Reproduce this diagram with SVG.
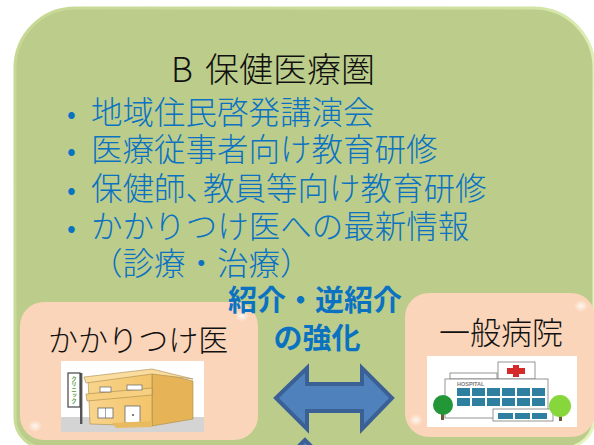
<svg xmlns="http://www.w3.org/2000/svg" width="594" height="445" viewBox="0 0 594 445">
  <defs>
    <style>
      .jp { font-family: "Noto Sans CJK JP", "Noto Sans", sans-serif; }
      .title { font-size: 34px; font-weight: 300; fill: #111111; }
      .item { font-size: 31.5px; font-weight: 300; fill: #0b72c2; }
      .dot { font-size: 26px; font-weight: 400; fill: #0b72c2; }
      .link { font-size: 29px; font-weight: bold; fill: #0b72c2; }
      .name { font-size: 30px; font-weight: 300; fill: #111111; }
      .card { fill: #fad5b9; }
      .arrow { fill: #4f81bd; stroke: #3b6096; stroke-width: 4; stroke-linejoin: miter; }
      .line { stroke: #7a7a7a; stroke-width: 0.8; }
    </style>
    <linearGradient id="rim" x1="0" y1="0" x2="1" y2="0.3">
      <stop offset="0" stop-color="#c6d894"/>
      <stop offset="0.8" stop-color="#cfe2a2"/>
      <stop offset="1" stop-color="#e4f2bd"/>
    </linearGradient>
    <radialGradient id="glow">
      <stop offset="0" stop-color="#ffffff" stop-opacity="0.8"/>
      <stop offset="1" stop-color="#ffffff" stop-opacity="0"/>
    </radialGradient>
    <linearGradient id="wallFront" x1="0" y1="0" x2="1" y2="0">
      <stop offset="0" stop-color="#f8d48c"/>
      <stop offset="1" stop-color="#f3c46a"/>
    </linearGradient>
  </defs>

  <rect width="594" height="445" fill="#ffffff"/>

  <!-- medical region B -->
  <g id="region-b">
    <path d="M75,8 H534 A60,60 0 0 1 594,68 V418 A30,30 0 0 1 564,448 H45 A30,30 0 0 1 15,418 V68 A60,60 0 0 1 75,8 Z"
          fill="#bccd8b" stroke="url(#rim)" stroke-width="3"/>
    <text class="jp title" x="171" y="82">B<tspan x="205">保健医療圏</tspan></text>
    <text class="jp item" y="124"><tspan class="dot" x="67" dy="-1">•</tspan><tspan x="91" dy="1">地域住民啓発講演会</tspan></text>
    <text class="jp item" y="161"><tspan class="dot" x="67" dy="-1">•</tspan><tspan x="91" dy="1">医療従事者向け教育研修</tspan></text>
    <text class="jp item" y="200"><tspan class="dot" x="67" dy="-1">•</tspan><tspan x="91" dy="1">保健師、</tspan><tspan x="203">教員等向け教育研修</tspan></text>
    <text class="jp item" y="238"><tspan class="dot" x="67" dy="-1">•</tspan><tspan x="91" dy="1">かかりつけ医への最新情報</tspan></text>
    <text class="jp item" x="91" y="275">（診療・治療）</text>
  </g>

  <!-- family doctor -->
  <g id="node-clinic">
    <rect class="card" x="20" y="302" width="238" height="138" rx="24"/>
    <ellipse cx="242" cy="316" rx="7" ry="6" fill="url(#glow)"/>
    <ellipse cx="35" cy="426" rx="7" ry="6" fill="url(#glow)"/>
    <text class="jp name" x="48" y="351">かかりつけ医</text>
    <!-- clinic building -->
    <rect x="61" y="361" width="143" height="71" fill="#ffffff"/>
    <rect x="61" y="417" width="143" height="15" fill="#d4d4d4"/>
    <polygon points="152,371 193,381 193,419 152,426" fill="#e6b456" stroke="#a88a4a" stroke-width="0.6"/>
    <polygon points="88,378 152,371 152,426 90,424" fill="url(#wallFront)" stroke="#a88a4a" stroke-width="0.6"/>
    <polygon points="84,377 152,369 193,379 152,374 86,383" fill="#f9dc9e" stroke="#a88a4a" stroke-width="0.6"/>
    <polygon points="86,394 152,388 152,395 87,401" fill="#f6cf80" stroke="#a88a4a" stroke-width="0.6"/>
    <rect x="100" y="387" width="11" height="5" fill="#ffffff" stroke="#666666" stroke-width="0.7"/>
    <rect x="127" y="385" width="15" height="5" fill="#ffffff" stroke="#666666" stroke-width="0.7"/>
    <rect x="98" y="408" width="15" height="10" fill="#ffffff" stroke="#666666" stroke-width="0.8"/>
    <line x1="105.5" y1="408" x2="105.5" y2="418" stroke="#666666" stroke-width="0.6"/>
    <rect x="125" y="406" width="15" height="17" fill="#ffffff" stroke="#666666" stroke-width="0.8"/>
    <circle cx="133" cy="415" r="1" fill="#555555"/>
    <polygon points="112,423 152,421 152,427 116,428" fill="#e9bb60"/>
    <rect x="80" y="373" width="2.4" height="51" fill="#555555"/>
    <rect x="68" y="373" width="12" height="34" fill="#ffffff" stroke="#444444" stroke-width="1.2"/>
    <text x="74" y="376" font-family="'Noto Sans CJK JP', sans-serif" font-size="5.5" font-weight="bold" fill="#4f9a3a" writing-mode="tb" text-anchor="start">クリニック</text>
  </g>

  <!-- general hospital -->
  <g id="node-hospital">
    <rect class="card" x="405" y="293" width="190" height="144" rx="24"/>
    <ellipse cx="581" cy="306" rx="7" ry="6" fill="url(#glow)"/>
    <ellipse cx="416" cy="420" rx="7" ry="6" fill="url(#glow)"/>
    <text class="jp name" x="439" y="344" style="font-size:31px">一般病院</text>
    <!-- hospital building -->
    <rect x="427" y="356" width="150" height="71" fill="#ffffff"/>
    <rect class="line" x="450" y="373" width="47" height="6" fill="#ffffff"/>
    <rect class="line" x="498" y="362" width="37" height="17" fill="#ffffff"/>
    <rect x="513" y="365" width="6" height="12" fill="#d42a2a"/>
    <rect x="507" y="368" width="18" height="6" fill="#d42a2a"/>
    <rect class="line" x="445" y="379" width="103" height="39" fill="#ffffff"/>
    <text x="457" y="386" font-family="'Liberation Sans', sans-serif" font-size="5.5" font-weight="bold" fill="#7a7a7a">HOSPITAL</text>
    <g fill="#2f7fa0">
      <rect x="457" y="388" width="13" height="8"/><rect x="472" y="388" width="13" height="8"/>
      <rect x="487" y="388" width="13" height="8"/><rect x="502" y="388" width="13" height="8"/>
      <rect x="517" y="388" width="13" height="8"/><rect x="532" y="388" width="13" height="8"/>
      <rect x="457" y="398" width="13" height="8"/><rect x="472" y="398" width="13" height="8"/>
      <rect x="487" y="398" width="13" height="8"/><rect x="502" y="398" width="13" height="8"/>
      <rect x="517" y="398" width="13" height="8"/><rect x="532" y="398" width="13" height="8"/>
    </g>
    <rect class="line" x="493" y="409" width="60" height="12" fill="#ffffff"/>
    <g fill="#2f7fa0">
      <rect x="498" y="413" width="15" height="6"/><rect x="515" y="413" width="15" height="6"/>
      <rect x="532" y="413" width="15" height="6"/>
    </g>
    <rect x="441" y="410" width="3" height="10" fill="#6a5a3a"/>
    <circle cx="443" cy="405" r="10" fill="#239638"/>
    <rect x="559" y="412" width="3" height="9" fill="#6a5a3a"/>
    <circle cx="560" cy="406" r="11" fill="#86d63c"/>
  </g>

  <!-- referral label -->
  <g id="label-referral">
    <text class="jp link" x="315" y="311" text-anchor="middle">紹介・逆紹介</text>
    <text class="jp link" x="317" y="349" text-anchor="middle">の強化</text>
  </g>

  <!-- connectors -->
  <g id="connectors">
    <path class="arrow" d="M276,398 L307,368 V384 H362 V368 L392,398 L362,429 V411 H307 V429 Z"/>
    <polygon class="arrow" points="305,440 298,447 312,447"/>
  </g>
</svg>
